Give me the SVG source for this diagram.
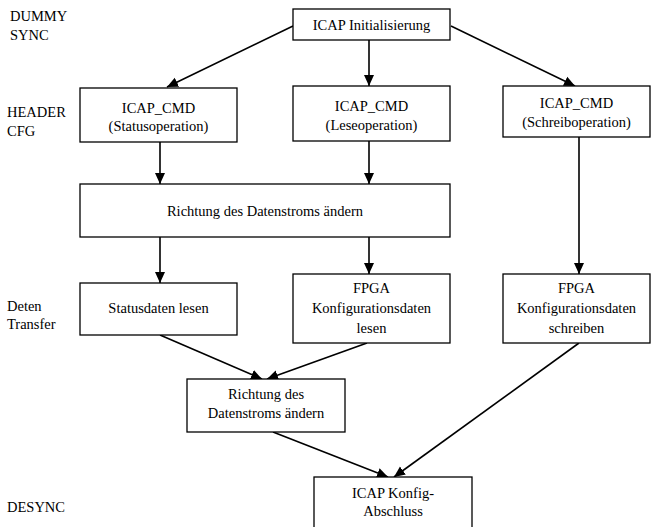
<svg xmlns="http://www.w3.org/2000/svg" width="653" height="527" viewBox="0 0 653 527">
<style>
.box{fill:#fff;stroke:#000;stroke-width:1.3}
text{font-family:"Liberation Serif","Times New Roman",serif;font-size:14.5px;fill:#000}
.c{text-anchor:middle}
.edge{stroke:#000;stroke-width:1.6;fill:none;marker-end:url(#ah)}
</style>
<defs>
<marker id="ah" markerUnits="userSpaceOnUse" markerWidth="12" markerHeight="12" viewBox="0 0 12 12" refX="11" refY="6" orient="auto">
<path d="M0,1 L11,6 L0,11 Z" fill="#000"/>
</marker>
</defs>
<rect width="653" height="527" fill="#fff"/>
<g id="labels">
<text x="10" y="21">DUMMY</text>
<text x="10" y="40">SYNC</text>
<text x="7" y="117">HEADER</text>
<text x="7" y="136">CFG</text>
<text x="7" y="311">Deten</text>
<text x="7" y="329">Transfer</text>
<text x="7" y="512">DESYNC</text>
</g>
<g id="connectors">
<line class="edge" x1="293" y1="26" x2="167" y2="87"/>
<line class="edge" x1="369" y1="40" x2="369" y2="86"/>
<line class="edge" x1="451" y1="26" x2="575" y2="86"/>
<line class="edge" x1="160" y1="142" x2="160" y2="184"/>
<line class="edge" x1="369" y1="141" x2="369" y2="184"/>
<line class="edge" x1="160" y1="237" x2="160" y2="283"/>
<line class="edge" x1="369" y1="237" x2="369" y2="274"/>
<line class="edge" x1="579" y1="137" x2="579" y2="274"/>
<line class="edge" x1="160" y1="335" x2="262" y2="379"/>
<line class="edge" x1="367" y1="343" x2="267" y2="379"/>
<line class="edge" x1="273" y1="432" x2="388" y2="477"/>
<line class="edge" x1="579" y1="343" x2="394" y2="477"/>
</g>
<g id="init">
<rect class="box" x="293" y="9" width="157" height="31"/>
<text class="c" x="371.5" y="30">ICAP Initialisierung</text>
</g>
<g id="cmd-status">
<rect class="box" x="80" y="88" width="157" height="54"/>
<text class="c" x="158.5" y="113">ICAP_CMD</text>
<text class="c" x="158.5" y="131">(Statusoperation)</text>
</g>
<g id="cmd-lese">
<rect class="box" x="293" y="86" width="157" height="55"/>
<text class="c" x="371.5" y="111">ICAP_CMD</text>
<text class="c" x="371.5" y="130">(Leseoperation)</text>
</g>
<g id="cmd-schreib">
<rect class="box" x="503" y="86" width="147" height="51"/>
<text class="c" x="576.5" y="108">ICAP_CMD</text>
<text class="c" x="576.5" y="127">(Schreiboperation)</text>
</g>
<g id="richtung1">
<rect class="box" x="80" y="184" width="370" height="53"/>
<text class="c" x="265" y="216">Richtung des Datenstroms ändern</text>
</g>
<g id="statusdaten">
<rect class="box" x="80" y="283" width="157" height="52"/>
<text class="c" x="158.5" y="313">Statusdaten lesen</text>
</g>
<g id="fpga-lesen">
<rect class="box" x="293" y="274" width="157" height="69"/>
<text class="c" x="371.5" y="293">FPGA</text>
<text class="c" x="371.5" y="313">Konfigurationsdaten</text>
<text class="c" x="371.5" y="333">lesen</text>
</g>
<g id="fpga-schreiben">
<rect class="box" x="503" y="274" width="147" height="69"/>
<text class="c" x="576.5" y="293">FPGA</text>
<text class="c" x="576.5" y="313">Konfigurationsdaten</text>
<text class="c" x="576.5" y="333">schreiben</text>
</g>
<g id="richtung2">
<rect class="box" x="187" y="379" width="158" height="53"/>
<text class="c" x="266" y="399">Richtung des</text>
<text class="c" x="266" y="418">Datenstroms ändern</text>
</g>
<g id="abschluss">
<rect class="box" x="314" y="477" width="158" height="60"/>
<text class="c" x="393" y="498">ICAP Konfig-</text>
<text class="c" x="393" y="516">Abschluss</text>
</g>
</svg>
